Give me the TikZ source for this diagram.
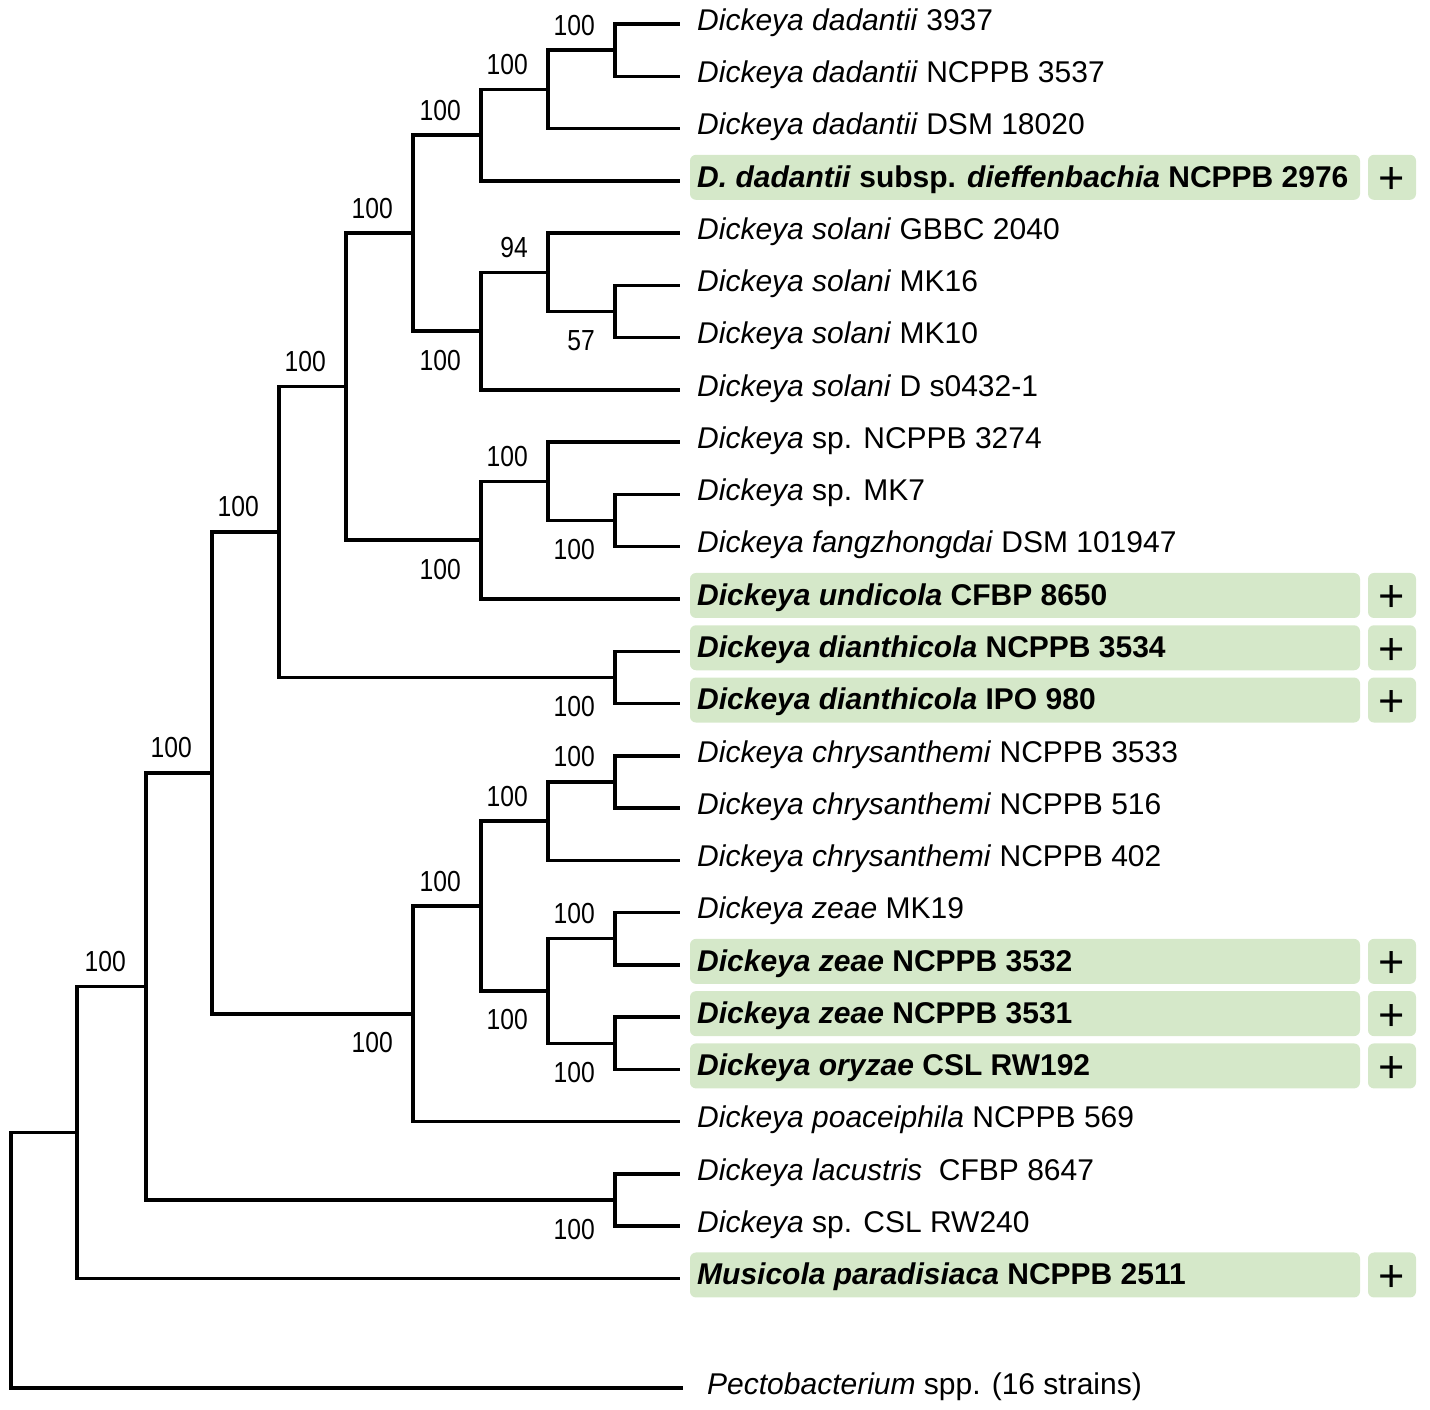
\documentclass[tikz,border=0pt]{standalone}
\usepackage{fontspec}
\setmainfont{Liberation Sans}
\definecolor{hl}{RGB}{213,232,201}
\begin{document}
\begin{tikzpicture}[x=1pt,y=-1pt,
  br/.style={line width=3.5pt},
  lab/.style={anchor=base west, inner sep=0pt, font=\fontsize{30}{32}\selectfont},
  blab/.style={lab, font=\fontsize{30}{32}\selectfont\bfseries},
  bs/.style={anchor=east, inner sep=0pt, font=\fontsize{29}{30}\selectfont},
  hbox/.style={fill=hl, rounded corners=6pt, minimum width=670pt, minimum height=45pt, inner sep=0pt},
  pbox/.style={fill=hl, rounded corners=6pt, minimum width=48pt, minimum height=45pt, inner sep=0pt},
  plus/.style={inner sep=0pt, font=\fontsize{45}{45}\selectfont}]
\useasboundingbox (0,0) rectangle (1430,1409);

% leaf tips
\foreach \i in {0,...,24} {\coordinate (l\i) at (680, 24+52.27*\i);}
\coordinate (lp) at (683,1388);

% internal nodes
\coordinate (A) at (615,50.14);
\coordinate (B) at (548,89.34);
\coordinate (C) at (481,135.07);
\coordinate (D) at (615,311.49);
\coordinate (E) at (548,272.28);
\coordinate (F) at (481,331.09);
\coordinate (G) at (413,233.08);
\coordinate (H) at (615,520.57);
\coordinate (I) at (548,481.36);
\coordinate (J) at (481,540.17);
\coordinate (K) at (346,386.62);
\coordinate (M) at (615,677.38);
\coordinate (N) at (279,532.0);
\coordinate (O) at (615,781.92);
\coordinate (P) at (548,821.12);
\coordinate (Q) at (615,938.73);
\coordinate (R) at (615,1043.27);
\coordinate (S) at (548,991.0);
\coordinate (T) at (481,906.06);
\coordinate (U) at (413,1013.87);
\coordinate (V) at (212,772.94);
\coordinate (W) at (615,1200.08);
\coordinate (X) at (146,986.51);
\coordinate (Y) at (77,1132.5);
\coordinate (Z) at (11,1260.25);

% highlight boxes
\foreach \i in {3,11,12,13,18,19,20,24} {
  \node[hbox] (b\i) at ([shift={(345,-3.5)}]l\i) {};
  \node[pbox] (pb\i) at ([shift={(712,-3.5)}]l\i) {};
  \node[plus] (p\i) at ([shift={(712,0)}]l\i) {+};
}

% branches
\draw[br] (Z) |- (Y) (Z) |- (lp);
\draw[br] (Y) |- (X) (Y) |- (l24);
\draw[br] (X) |- (V) (X) |- (W);
\draw[br] (W) |- (l22) (W) |- (l23);
\draw[br] (V) |- (N) (V) |- (U);
\draw[br] (N) |- (K) (N) |- (M);
\draw[br] (M) |- (l12) (M) |- (l13);
\draw[br] (K) |- (G) (K) |- (J);
\draw[br] (G) |- (C) (G) |- (F);
\draw[br] (C) |- (B) (C) |- (l3);
\draw[br] (B) |- (A) (B) |- (l2);
\draw[br] (A) |- (l0) (A) |- (l1);
\draw[br] (F) |- (E) (F) |- (l7);
\draw[br] (E) |- (l4) (E) |- (D);
\draw[br] (D) |- (l5) (D) |- (l6);
\draw[br] (J) |- (I) (J) |- (l11);
\draw[br] (I) |- (l8) (I) |- (H);
\draw[br] (H) |- (l9) (H) |- (l10);
\draw[br] (U) |- (T) (U) |- (l21);
\draw[br] (T) |- (P) (T) |- (S);
\draw[br] (P) |- (O) (P) |- (l16);
\draw[br] (O) |- (l14) (O) |- (l15);
\draw[br] (S) |- (Q) (S) |- (R);
\draw[br] (Q) |- (l17) (Q) |- (l18);
\draw[br] (R) |- (l19) (R) |- (l20);

% bootstrap values
\foreach \n/\v in {A/100,B/100,C/100,G/100,K/100,N/100,V/100,X/100,E/94,I/100,O/100,P/100,T/100,Q/100}
  {\node[bs] (bs\n) at ([shift={(-20,-25)}]\n) {\scalebox{0.85}[1]{\v}};}
\foreach \n/\v in {D/57,F/100,H/100,J/100,M/100,S/100,R/100,U/100,W/100}
  {\node[bs] (bs\n) at ([shift={(-20,29)}]\n) {\scalebox{0.85}[1]{\v}};}

% leaf labels
\node[lab]  (t0)  at ([shift={(17,6.25)}]l0)  {\textit{Dickeya dadantii} 3937};
\node[lab]  (t1)  at ([shift={(17,6.25)}]l1)  {\textit{Dickeya dadantii} NCPPB 3537};
\node[lab]  (t2)  at ([shift={(17,6.25)}]l2)  {\textit{Dickeya dadantii} DSM 18020};
\node[blab] (t3)  at ([shift={(17,6.25)}]l3)  {\textit{D. dadantii} subsp. \textit{dieffenbachia} NCPPB 2976};
\node[lab]  (t4)  at ([shift={(17,6.25)}]l4)  {\textit{Dickeya solani} GBBC 2040};
\node[lab]  (t5)  at ([shift={(17,6.25)}]l5)  {\textit{Dickeya solani} MK16};
\node[lab]  (t6)  at ([shift={(17,6.25)}]l6)  {\textit{Dickeya solani} MK10};
\node[lab]  (t7)  at ([shift={(17,6.25)}]l7)  {\textit{Dickeya solani} D s0432-1};
\node[lab]  (t8)  at ([shift={(17,6.25)}]l8)  {\textit{Dickeya} sp. NCPPB 3274};
\node[lab]  (t9)  at ([shift={(17,6.25)}]l9)  {\textit{Dickeya} sp. MK7};
\node[lab]  (t10) at ([shift={(17,6.25)}]l10) {\textit{Dickeya fangzhongdai} DSM 101947};
\node[blab] (t11) at ([shift={(17,6.25)}]l11) {\textit{Dickeya undicola} CFBP 8650};
\node[blab] (t12) at ([shift={(17,6.25)}]l12) {\textit{Dickeya dianthicola} NCPPB 3534};
\node[blab] (t13) at ([shift={(17,6.25)}]l13) {\textit{Dickeya dianthicola} IPO 980};
\node[lab]  (t14) at ([shift={(17,6.25)}]l14) {\textit{Dickeya chrysanthemi} NCPPB 3533};
\node[lab]  (t15) at ([shift={(17,6.25)}]l15) {\textit{Dickeya chrysanthemi} NCPPB 516};
\node[lab]  (t16) at ([shift={(17,6.25)}]l16) {\textit{Dickeya chrysanthemi} NCPPB 402};
\node[lab]  (t17) at ([shift={(17,6.25)}]l17) {\textit{Dickeya zeae} MK19};
\node[blab] (t18) at ([shift={(17,6.25)}]l18) {\textit{Dickeya zeae} NCPPB 3532};
\node[blab] (t19) at ([shift={(17,6.25)}]l19) {\textit{Dickeya zeae} NCPPB 3531};
\node[blab] (t20) at ([shift={(17,6.25)}]l20) {\textit{Dickeya oryzae} CSL RW192};
\node[lab]  (t21) at ([shift={(17,6.25)}]l21) {\textit{Dickeya poaceiphila} NCPPB 569};
\node[lab]  (t22) at ([shift={(17,6.25)}]l22) {\textit{Dickeya lacustris}\ \ CFBP 8647};
\node[lab]  (t23) at ([shift={(17,6.25)}]l23) {\textit{Dickeya} sp. CSL RW240};
\node[blab] (t24) at ([shift={(17,6.25)}]l24) {\textit{Musicola paradisiaca} NCPPB 2511};
\node[lab]  (t25) at ([shift={(24,6.25)}]lp)  {\textit{Pectobacterium} spp. (16 strains)};
\end{tikzpicture}
\end{document}
